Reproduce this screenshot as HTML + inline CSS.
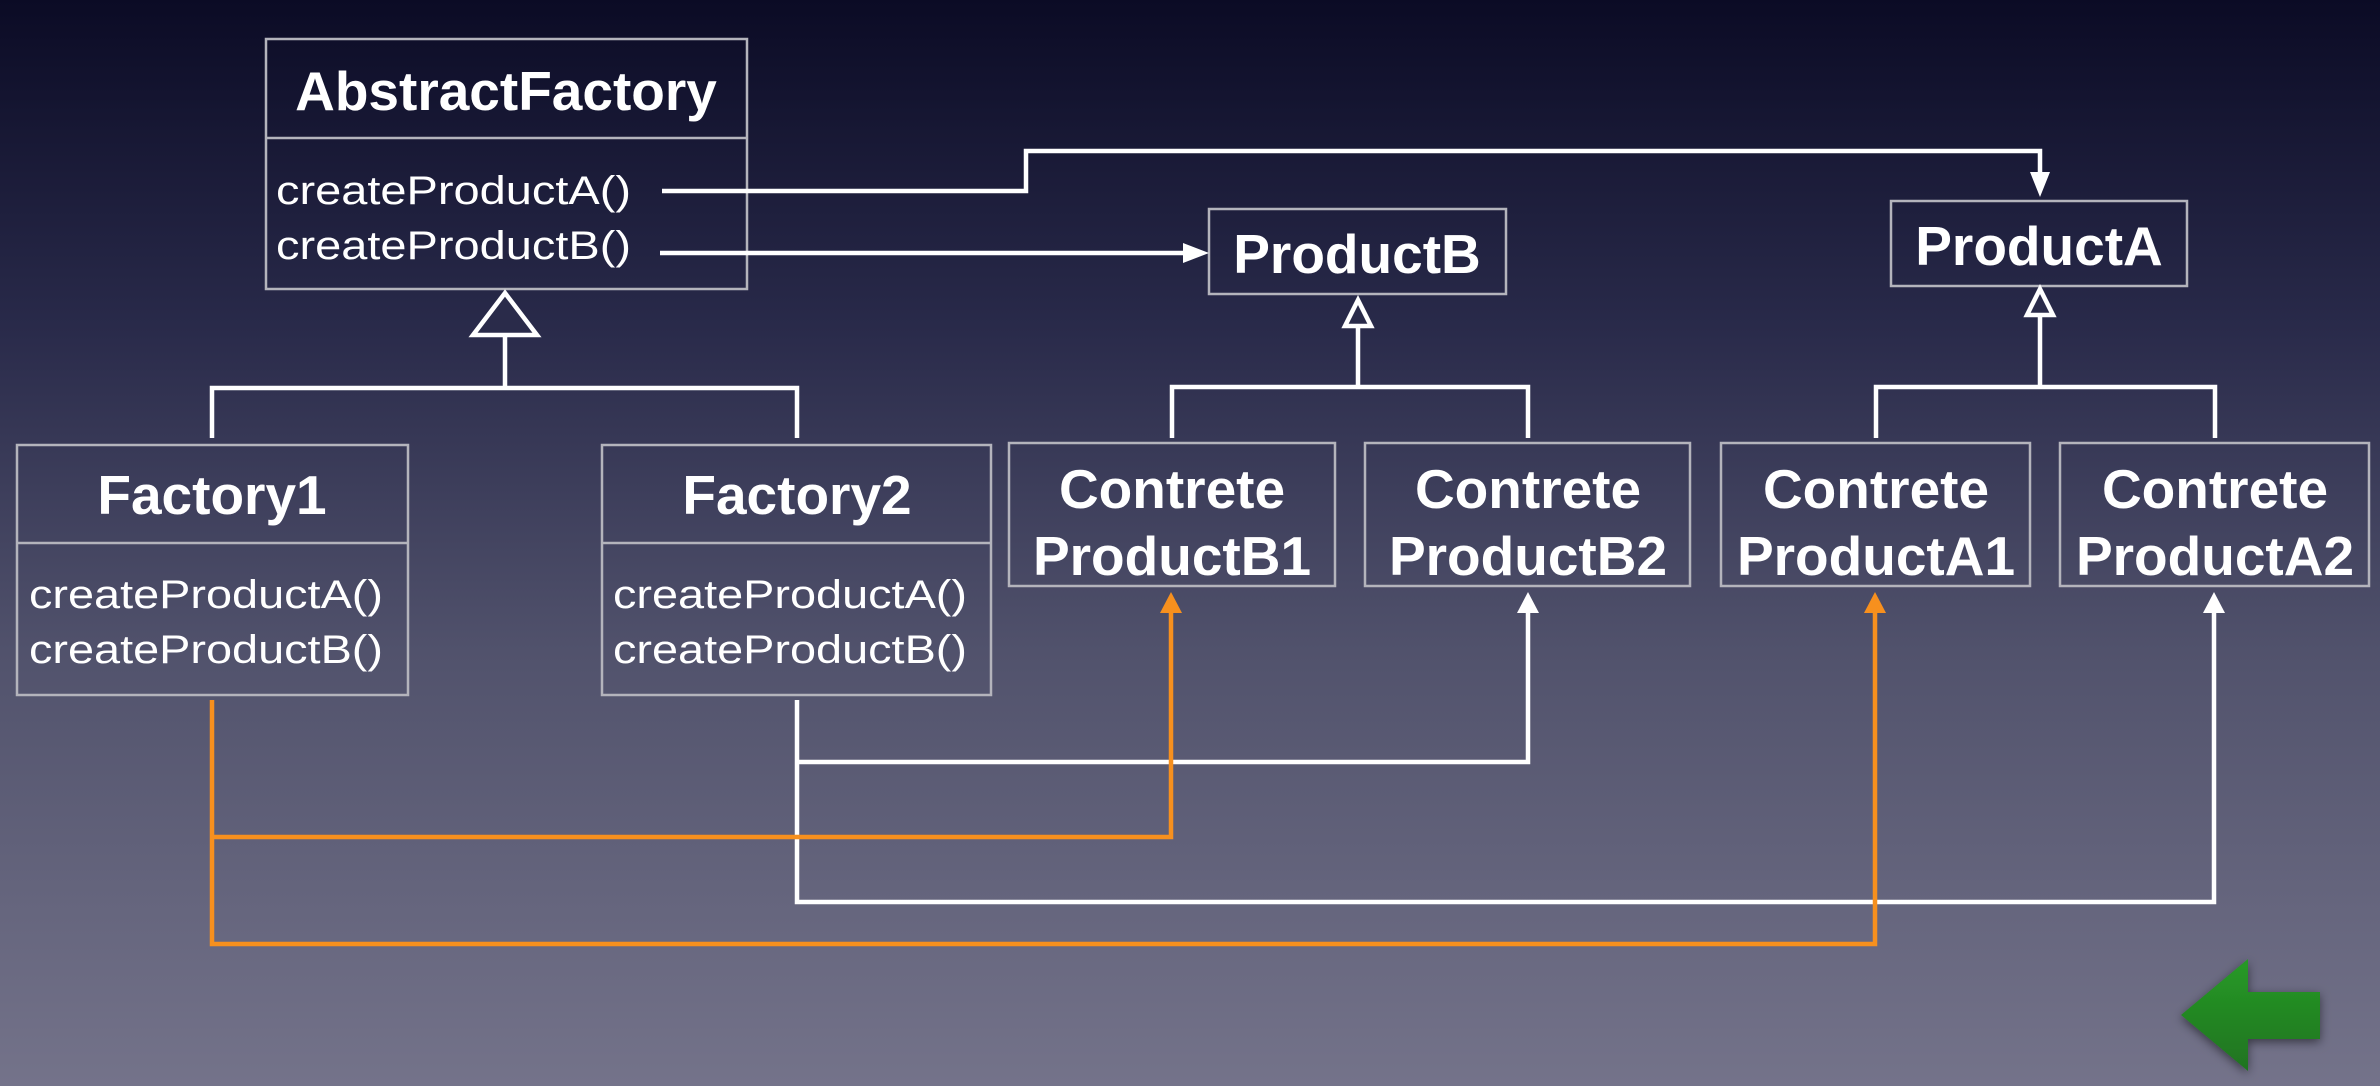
<!DOCTYPE html>
<html><head><meta charset="utf-8"><style>
html,body{margin:0;padding:0;width:2380px;height:1086px;overflow:hidden;}
svg{display:block;}
</style></head><body>
<svg width="2380" height="1086" viewBox="0 0 2380 1086" xmlns="http://www.w3.org/2000/svg">
<defs>
<linearGradient id="bg" x1="0" y1="0" x2="0" y2="1">
<stop offset="0" stop-color="#0b0b25"/>
<stop offset="0.3" stop-color="#292a4a"/>
<stop offset="0.6" stop-color="#51526c"/>
<stop offset="1" stop-color="#74738a"/>
</linearGradient>
<linearGradient id="gr" x1="0" y1="0" x2="0" y2="1">
<stop offset="0" stop-color="#279a27"/>
<stop offset="1" stop-color="#1f731f"/>
</linearGradient>
<filter id="sh" x="-30%" y="-30%" width="160%" height="160%"><feDropShadow dx="0" dy="3" stdDeviation="5" flood-color="#000" flood-opacity="0.5"/></filter>
</defs>
<rect width="2380" height="1086" fill="url(#bg)"/>

<g fill="none" stroke="#b4b4bc" stroke-width="2.5">
<rect x="266" y="39" width="481" height="250"/><line x1="266" y1="138" x2="747" y2="138"/>
<rect x="17" y="445" width="391" height="250"/><line x1="17" y1="543" x2="408" y2="543"/>
<rect x="602" y="445" width="389" height="250"/><line x1="602" y1="543" x2="991" y2="543"/>
<rect x="1209" y="209" width="297" height="85"/>
<rect x="1891" y="201" width="296" height="85"/>
<rect x="1009" y="443" width="326" height="143"/>
<rect x="1365" y="443" width="325" height="143"/>
<rect x="1721" y="443" width="309" height="143"/>
<rect x="2060" y="443" width="309" height="143"/>
</g>

<g fill="#fff" font-family="Liberation Sans, sans-serif" font-weight="bold" font-size="55" text-anchor="middle">
<text x="506" y="110">AbstractFactory</text>
<text x="212" y="514">Factory1</text>
<text x="797" y="514">Factory2</text>
<text x="1357" y="273">ProductB</text>
<text x="2039" y="265">ProductA</text>
<text x="1172" y="508">Contrete</text><text x="1172" y="575">ProductB1</text>
<text x="1528" y="508">Contrete</text><text x="1528" y="575">ProductB2</text>
<text x="1876" y="508">Contrete</text><text x="1876" y="575">ProductA1</text>
<text x="2215" y="508">Contrete</text><text x="2215" y="575">ProductA2</text>
</g>
<g fill="#fff" font-family="Liberation Sans, sans-serif" font-size="40">
<text x="276" y="204" textLength="355" lengthAdjust="spacingAndGlyphs">createProductA()</text>
<text x="276" y="259" textLength="355" lengthAdjust="spacingAndGlyphs">createProductB()</text>
<text x="29" y="608" textLength="354" lengthAdjust="spacingAndGlyphs">createProductA()</text>
<text x="29" y="663" textLength="354" lengthAdjust="spacingAndGlyphs">createProductB()</text>
<text x="613" y="608" textLength="354" lengthAdjust="spacingAndGlyphs">createProductA()</text>
<text x="613" y="663" textLength="354" lengthAdjust="spacingAndGlyphs">createProductB()</text>
</g>

<g fill="none" stroke="#fff" stroke-width="4.5">
<polyline points="662,191 1026,191 1026,151 2040,151 2040,175"/>
<line x1="660" y1="253" x2="1185" y2="253"/>
<polyline points="212,438 212,388 797,388 797,438"/>
<line x1="505" y1="335" x2="505" y2="388"/>
<polyline points="1172,438 1172,387 1528,387 1528,438"/>
<line x1="1358" y1="326" x2="1358" y2="387"/>
<polyline points="1876,438 1876,387 2215,387 2215,438"/>
<line x1="2040" y1="315" x2="2040" y2="387"/>
<polyline points="797,700 797,902 2214,902 2214,610"/>
<polyline points="797,762 1528,762 1528,610"/>
</g>
<g fill="#2a2b4a" stroke="#fff" stroke-width="4.5">
<polygon points="505,293 473,335 537,335"/>
<polygon points="1358,300 1345,326 1371,326"/>
<polygon points="2040,289 2027,315 2053,315"/>
</g>
<g fill="#fff">
<polygon points="2040,197 2030,172 2050,172"/>
<polygon points="1209,253 1183,243 1183,263"/>
<polygon points="1528,592 1517,613 1539,613"/>
<polygon points="2214,592 2203,613 2225,613"/>
</g>
<g fill="none" stroke="#f7901e" stroke-width="4.5">
<polyline points="212,700 212,944 1875,944 1875,610"/>
<polyline points="212,837 1171,837 1171,610"/>
</g>
<g fill="#f7901e">
<polygon points="1171,592 1160,613 1182,613"/>
<polygon points="1875,592 1864,613 1886,613"/>
</g>

<polygon filter="url(#sh)" fill="url(#gr)" points="2181,1015 2248,959 2248,992 2320,992 2320,1039 2248,1039 2248,1071"/>
</svg>
</body></html>
